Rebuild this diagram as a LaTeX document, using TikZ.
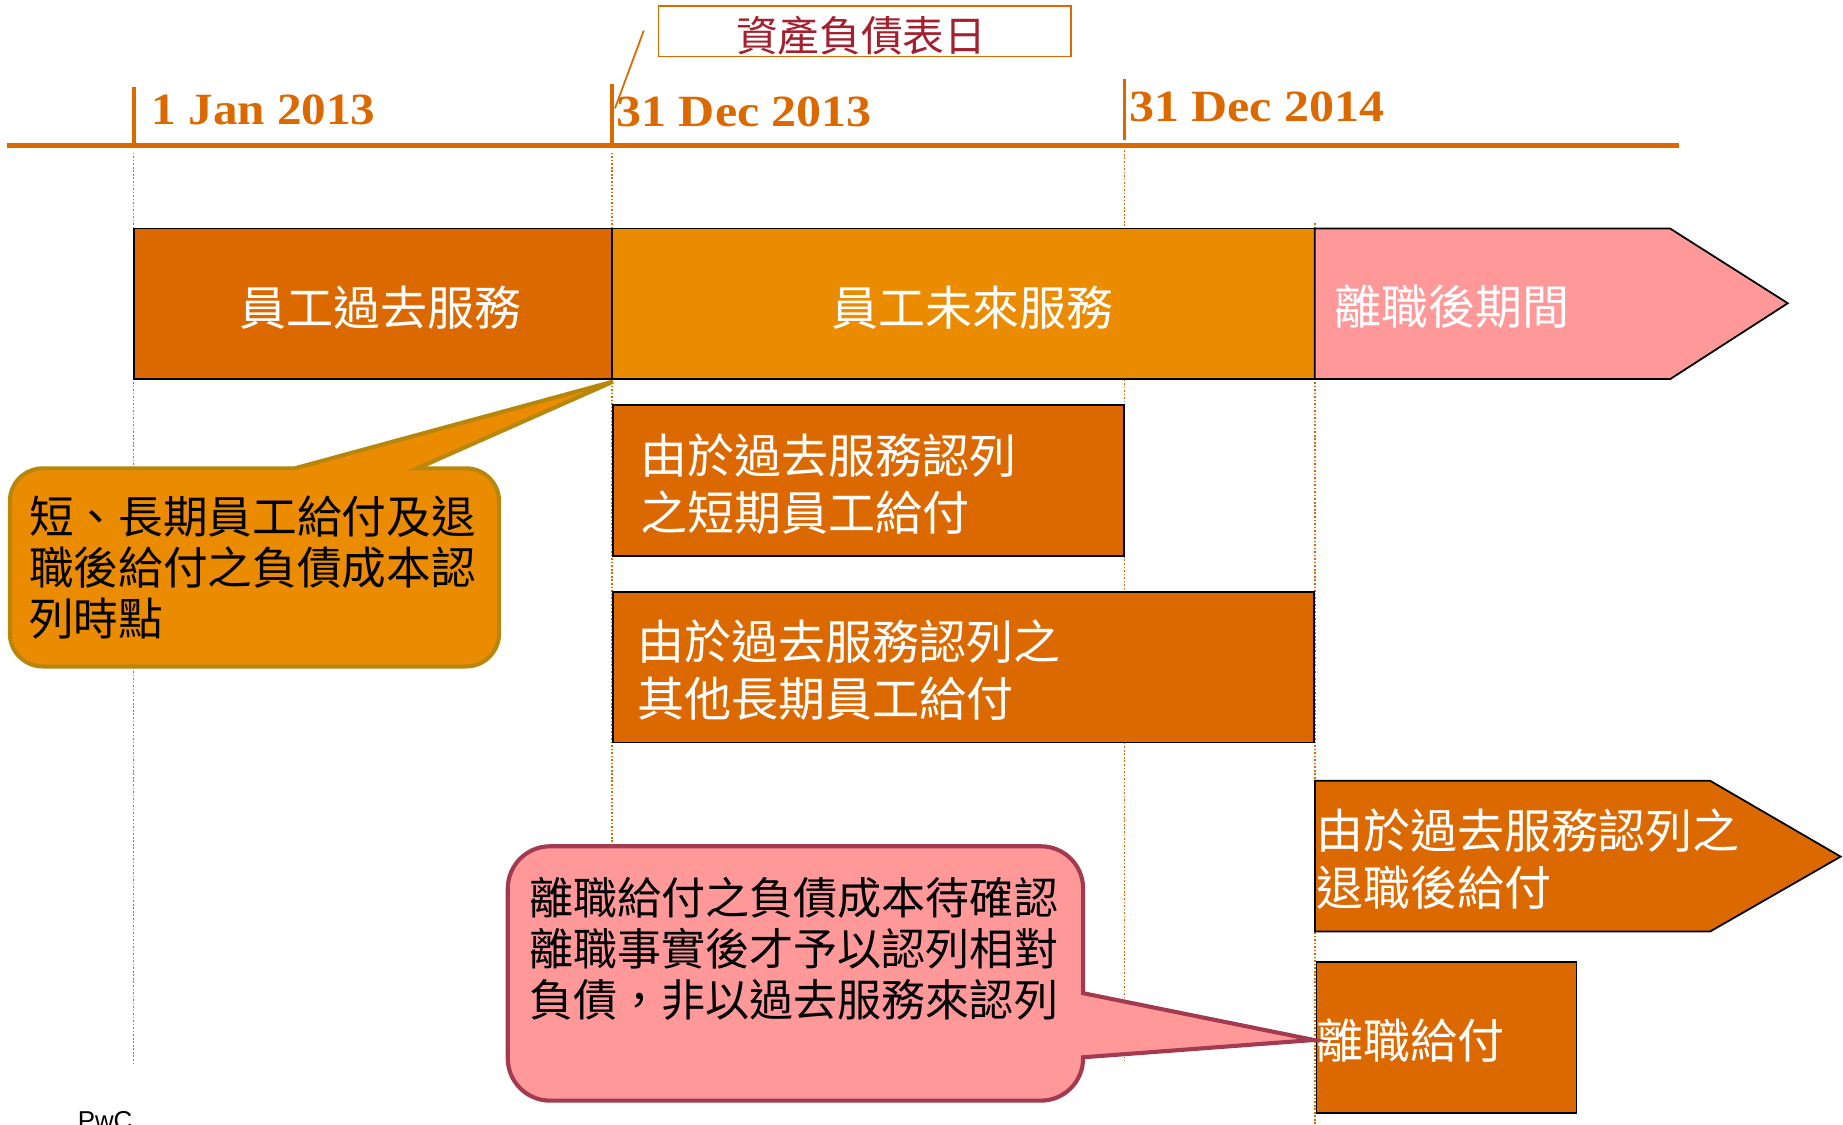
\documentclass[tikz,border=0pt]{standalone}
\usepackage{fontspec}
\setmainfont{Liberation Serif}
\newfontfamily\cjk{Noto Sans CJK TC}
\newfontfamily\datefont{Liberation Serif}
\newfontfamily\pwcfont{Liberation Sans}
\definecolor{pwcorange}{HTML}{DC6900}
\definecolor{dkorange}{HTML}{DC6900}
\definecolor{ltorange}{HTML}{EB8C00}
\definecolor{pinkfill}{HTML}{FF9999}
\definecolor{goldline}{HTML}{B8860B}
\definecolor{wineline}{HTML}{A33A4F}
\definecolor{titlered}{HTML}{A3202E}
\tikzset{
  tlline/.style={draw=pwcorange, line width=4pt},
  tickmark/.style={draw=pwcorange, line width=3pt},
  guide/.style={draw=pwcorange, line width=1.2pt, dash pattern=on 1.4pt off 1.6pt},
  datelbl/.style={text=pwcorange, font=\datefont\bfseries\fontsize{38}{40}\selectfont, inner sep=0pt, anchor=base west},
  bar/.style={draw=black, line width=1.5pt},
  whitetxt/.style={text=white, font=\cjk\fontsize{40}{48.5}\selectfont, inner sep=0pt, align=left},
  callone/.style={draw=goldline, line width=3.5pt, fill=ltorange, line join=miter},
  calltwo/.style={draw=wineline, line width=3.5pt, fill=pinkfill, line join=miter},
}
\begin{document}
\begin{tikzpicture}[x=1pt,y=-1pt]
\useasboundingbox (0,0) rectangle (1568,957);
\fill[white] (0,0) rectangle (1568,957);

% guides
\coordinate (g1t) at (113.8,130); \coordinate (g1b) at (113.8,906);
\coordinate (g2t) at (520.8,130); \coordinate (g2b) at (520.8,725);
\coordinate (g3t) at (956.5,128); \coordinate (g3b) at (956.5,903);
\coordinate (g4t) at (1118.6,190); \coordinate (g4b) at (1118.6,957);
\draw[guide] (g1t) -- (g1b);
\draw[guide] (g2t) -- (g2b);
\draw[guide] (g3t) -- (g3b);
\draw[guide] (g4t) -- (g4b);

% timeline
\coordinate (tlA) at (6,124); \coordinate (tlB) at (1428.5,124);
\draw[tlline] (tlA) -- (tlB);
\coordinate (t1a) at (113.8,74.3); \coordinate (t1b) at (113.8,124);
\coordinate (t2a) at (520.8,71.5); \coordinate (t2b) at (520.8,124);
\coordinate (t3a) at (956.5,67.5); \coordinate (t3b) at (956.5,119);
\draw[tickmark] (t1a) -- (t1b);
\draw[tickmark] (t2a) -- (t2b);
\draw[tickmark] (t3a) -- (t3b);
\node[datelbl] (d1) at (128.8,106.3) {\scalebox{1.1}[1]{1 Jan 2013}};
\node[datelbl] (d2) at (524.2,107.8) {\scalebox{1.12}[1]{31 Dec 2013}};
\node[datelbl] (d3) at (960.4,103.5) {\scalebox{1.12}[1]{31 Dec 2014}};

% title box
\node[draw=pwcorange, line width=1.5pt, fill=white, minimum width=351pt, minimum height=43pt, inner sep=0pt] (title) at (735.8,26.6) {};
\node[text=titlered, font=\cjk\fontsize{35.5}{38}\selectfont, inner sep=0pt] (titleT) at (732.7,30.4) {資產負債表日};
\coordinate (lead) at (547.7,26);
\coordinate (leadend) at (523.2,92.2);
\draw[draw=pwcorange, line width=1.5pt] (lead) -- (leadend);

% row 1
\draw[bar, fill=dkorange] (114,194.5) rectangle (520.8,322.5);
\draw[bar, fill=ltorange] (520.8,194.5) rectangle (1118.6,322.5);
\draw[bar, fill=pinkfill] (1118.6,194.5) -- (1421,194.5) -- (1521,258) -- (1421,322.5) -- (1118.6,322.5) -- cycle;
\node[whitetxt] (pastT) at (323.5,261.5) {員工過去服務};
\node[whitetxt] (futT) at (827,261.5) {員工未來服務};
\node[whitetxt, anchor=west] (postT) at (1135,261) {離職後期間};

% row 2
\draw[bar, fill=dkorange] (521.5,344.6) rectangle (956.5,473);
\node[whitetxt, anchor=west] (shortT) at (545,412) {由於過去服務認列\\之短期員工給付};

% row 3
\draw[bar, fill=dkorange] (521.5,503.4) rectangle (1118,631.8);
\node[whitetxt, anchor=west] (otherT) at (542,570.5) {由於過去服務認列之\\其他長期員工給付};

% row 4
\draw[bar, fill=dkorange] (1118.8,664.2) -- (1454.8,664.2) -- (1566,728.8) -- (1454.8,792.6) -- (1118.8,792.6) -- cycle;
\node[whitetxt, anchor=west] (postbenT) at (1119.5,731) {由於過去服務認列之\\退職後給付};

% row 5
\draw[bar, fill=dkorange] (1120,818.2) rectangle (1341.3,946.6);
\node[whitetxt, anchor=west] (termT) at (1119.5,885.5) {離職給付};

% callout 1
\coordinate (c1tip) at (521.5,324.7);
\draw[callone] (8.4,480) [rounded corners=28pt] -- (8.4,398.5) [sharp corners] -- (250.7,398.5) -- (c1tip) -- (355,398.5) [rounded corners=28pt] -- (424.6,398.5) -- (424.6,567) -- (8.4,567) -- cycle;
\node[inner sep=0pt, align=left, anchor=west, font=\cjk\fontsize{38}{43.3}\selectfont] (c1T) at (24.5,483) {短、長期員工給付及退\\職後給付之負債成本認\\列時點};

% callout 2
\coordinate (c2tip) at (1117.8,884.8);
\draw[calltwo] (432,830) [rounded corners=36pt] -- (432,720) -- (921.5,720) [sharp corners] -- (921.5,845) -- (c2tip) -- (921.5,899.5) [rounded corners=36pt] -- (921.5,936.4) -- (432,936.4) -- cycle;
\node[inner sep=0pt, align=left, anchor=west, font=\cjk\fontsize{37.5}{43.3}\selectfont] (c2T) at (450,807.5) {離職給付之負債成本待確認\\離職事實後才予以認列相對\\負債，非以過去服務來認列};

% footer
\node[anchor=north west, inner sep=0pt, font=\pwcfont\fontsize{22}{24}\selectfont] (pwc) at (66,945) {PwC};
\end{tikzpicture}
\end{document}
